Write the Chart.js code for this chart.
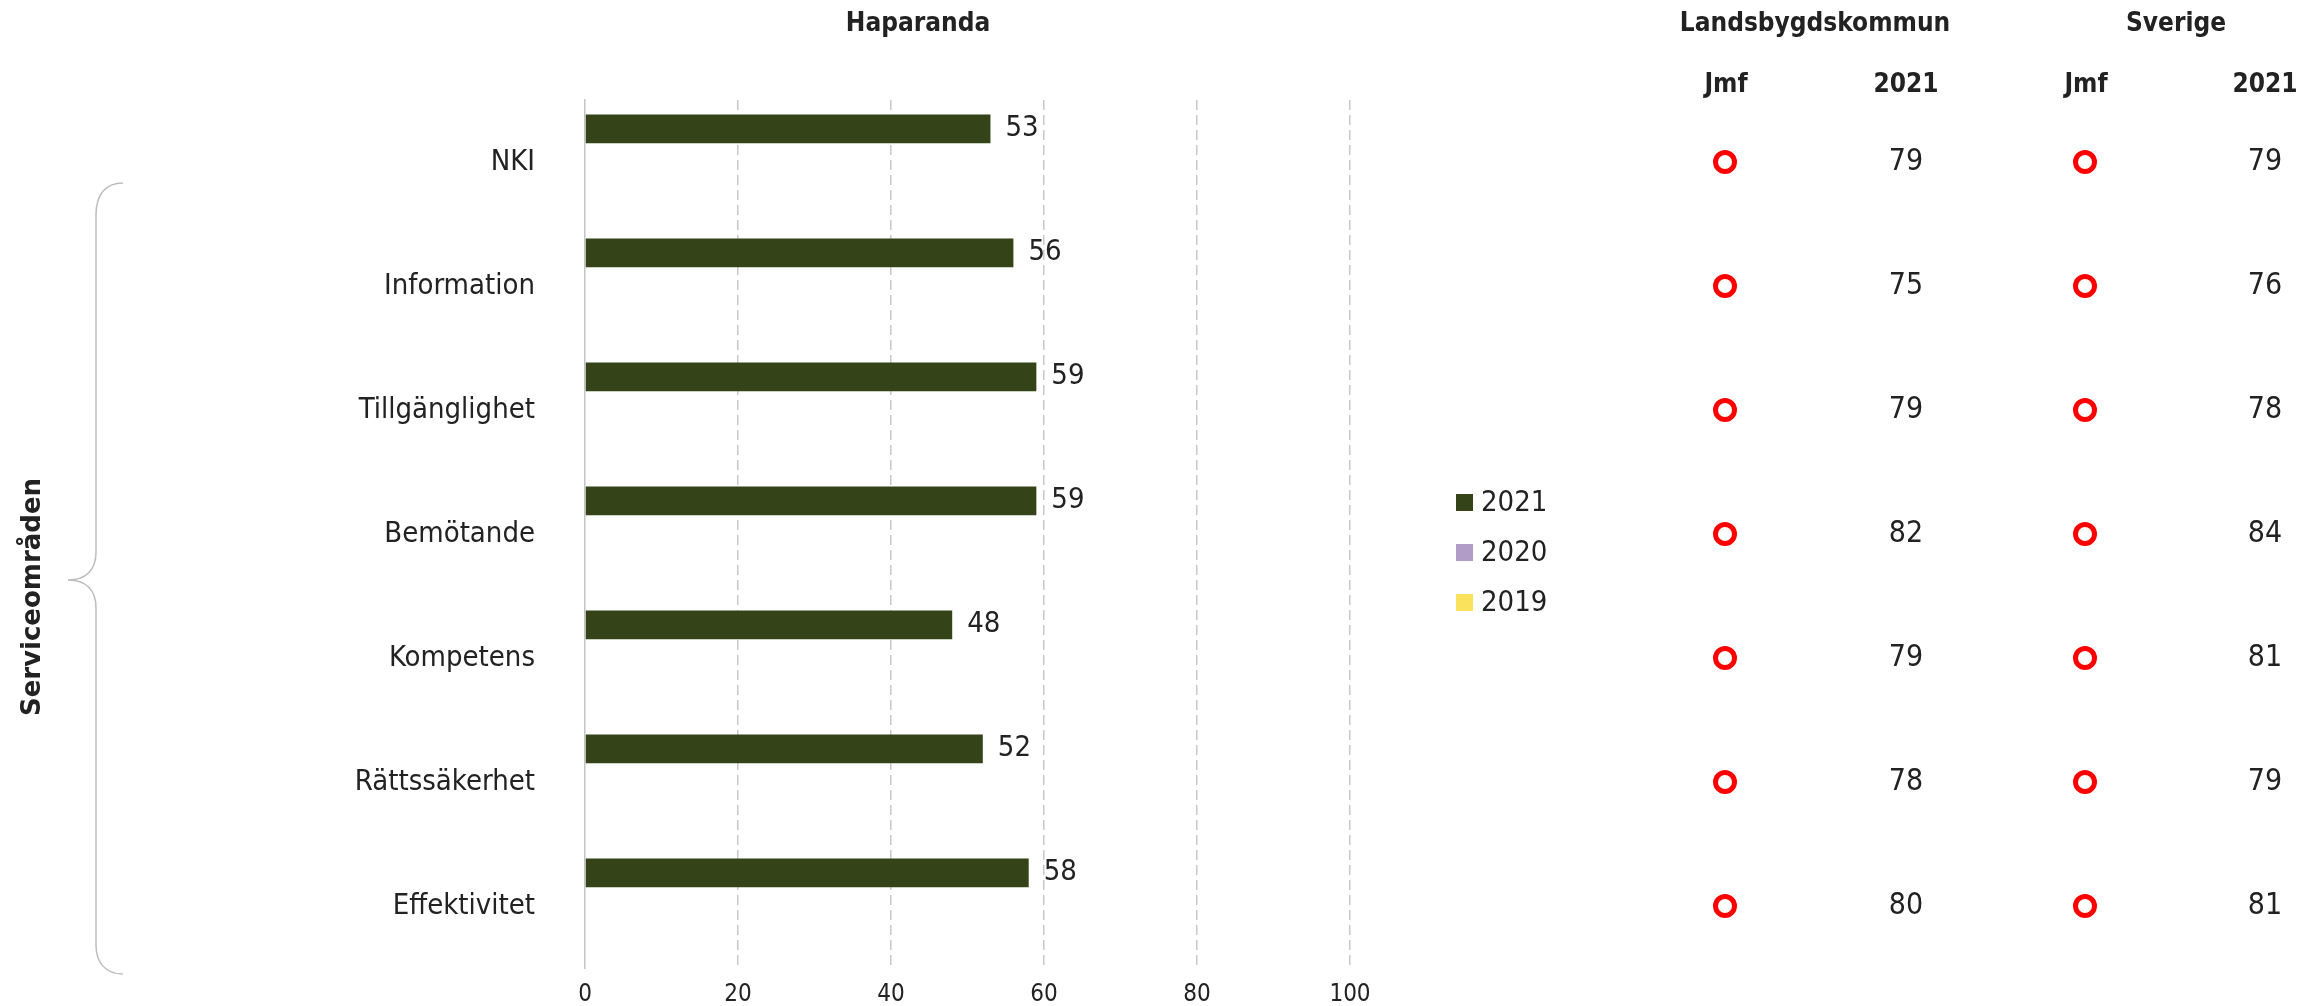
<!DOCTYPE html>
<html>
<head>
<meta charset="utf-8">
<script src="https://cdn.jsdelivr.net/npm/chart.js@4.4.0/dist/chart.umd.min.js"></script>
<style>
  body { margin: 0; background: #fff; overflow: hidden; }
  canvas { display: block; }
</style>
</head>
<body>
<canvas id="myChart" width="2323" height="1006"></canvas>
<script>
const omraden = ['NKI', 'Information', 'Tillgänglighet', 'Bemötande', 'Kompetens', 'Rättssäkerhet', 'Effektivitet'];
const arLabels = ['2021', '2020', '2019'];
const haparanda2021 = [53, 56, 59, 59, 48, 52, 58];
const haparanda2020 = [null, null, null, null, null, null, null];
const haparanda2019 = [null, null, null, null, null, null, null];
const landsbygd2021 = [79, 75, 79, 82, 79, 78, 80];
const sverige2021 = [79, 76, 78, 84, 81, 79, 81];
const xTicks = [0, 20, 40, 60, 80, 100];
const farger = ['#354318', '#b09cc6', '#fbe25c'];

const FONT = '"DejaVu Sans Condensed", "DejaVu Sans", sans-serif';
const TEXT = '#222222';

const extras = {
  id: 'extras',
  afterDatasetsDraw(chart) {
    const c = chart.ctx;
    c.save();
    c.fillStyle = TEXT;
    c.font = '29px ' + FONT;
    c.textAlign = 'left';
    c.textBaseline = 'middle';
    chart.getDatasetMeta(0).data.forEach((el, i) => {
      c.fillText(String(haparanda2021[i]), el.x + 15, el.y);
    });
    c.restore();
  },
  afterDraw(chart) {
    const c = chart.ctx;
    const y = chart.scales.y;
    c.save();
    c.fillStyle = TEXT;
    c.textAlign = 'center';
    c.textBaseline = 'middle';

    // rubriker
    c.font = 'bold 26px ' + FONT;
    c.fillText('Haparanda', 918, 24);
    c.fillText('Landsbygdskommun', 1815, 24);
    c.fillText('Sverige', 2176, 24);
    c.fillText('Jmf', 1726, 85);
    c.fillText('2021', 1906, 85);
    c.fillText('Jmf', 2086, 85);
    c.fillText('2021', 2265, 85);

    // tabell till höger
    c.font = '30px ' + FONT;
    omraden.forEach((o, i) => {
      const cy = y.getPixelForValue(i);
      c.fillStyle = TEXT;
      c.fillText(String(landsbygd2021[i]), 1906, cy);
      c.fillText(String(sverige2021[i]), 2265, cy);
      c.strokeStyle = '#ff0000';
      c.lineWidth = 5;
      [1725, 2085].forEach(cx => {
        c.beginPath();
        c.arc(cx, cy, 9.5, 0, Math.PI * 2);
        c.stroke();
      });
    });

    // legend
    c.font = '29px ' + FONT;
    c.textAlign = 'left';
    arLabels.forEach((a, i) => {
      const cy = 502 + i * 50;
      c.fillStyle = farger[i];
      c.fillRect(1456, cy - 8, 17, 17);
      c.fillStyle = TEXT;
      c.fillText(a, 1481, cy + 1);
    });

    // klammer
    c.strokeStyle = '#bdbdbd';
    c.lineWidth = 1.5;
    c.beginPath();
    c.moveTo(123, 183);
    c.bezierCurveTo(105, 183, 96, 195, 96, 215);
    c.lineTo(96, 552);
    c.bezierCurveTo(96, 570, 86, 580, 68, 580);
    c.bezierCurveTo(86, 580, 96, 590, 96, 608);
    c.lineTo(96, 945);
    c.bezierCurveTo(96, 962, 105, 974, 123, 974);
    c.stroke();

    // Serviceområden
    c.translate(33, 597);
    c.rotate(-Math.PI / 2);
    c.textAlign = 'center';
    c.fillStyle = TEXT;
    c.font = 'bold 26px "DejaVu Sans", sans-serif';
    c.fillText('Serviceområden', 0, 0);
    c.restore();
  }
};

const ctx = document.getElementById('myChart');
const myChart = new Chart(ctx, {
  type: 'bar',
  data: {
    labels: omraden,
    datasets: [
      { label: arLabels[0], data: haparanda2021, backgroundColor: farger[0] },
      { label: arLabels[1], data: haparanda2020, backgroundColor: farger[1] },
      { label: arLabels[2], data: haparanda2019, backgroundColor: farger[2] }
    ]
  },
  options: {
    indexAxis: 'y',
    responsive: false,
    animation: false,
    devicePixelRatio: 1,
    barPercentage: 0.87,
    categoryPercentage: 0.8,
    layout: {
      autoPadding: false,
      padding: { top: 100, right: 973, bottom: 0, left: 0 }
    },
    plugins: {
      legend: { display: false },
      tooltip: { enabled: false }
    },
    scales: {
      x: {
        min: 0,
        max: 100,
        afterBuildTicks: s => { s.ticks = xTicks.map(v => ({ value: v })); },
        afterFit: s => { s.height = 38; },
        grid: {
          color: c => c.tick && c.tick.value === 0 ? 'rgba(0,0,0,0)' : '#c8c8c8',
          lineWidth: 1.5,
          drawTicks: false
        },
        border: { display: false, dash: [10, 5] },
        ticks: { color: TEXT, font: { family: FONT, size: 24 }, padding: 12 }
      },
      y: {
        // fast bredd, och ingen extra marginal upptill/nertill från tick-padding
        afterFit: s => { s.width = 585; s.paddingTop = 0; s.paddingBottom = 0; },
        grid: { display: false, drawTicks: false },
        border: { display: true, color: '#c4c4c4', width: 1.5 },
        ticks: { color: TEXT, font: { family: FONT, size: 29 }, padding: 50 }
      }
    }
  },
  plugins: [extras]
});
</script>
</body>
</html>
